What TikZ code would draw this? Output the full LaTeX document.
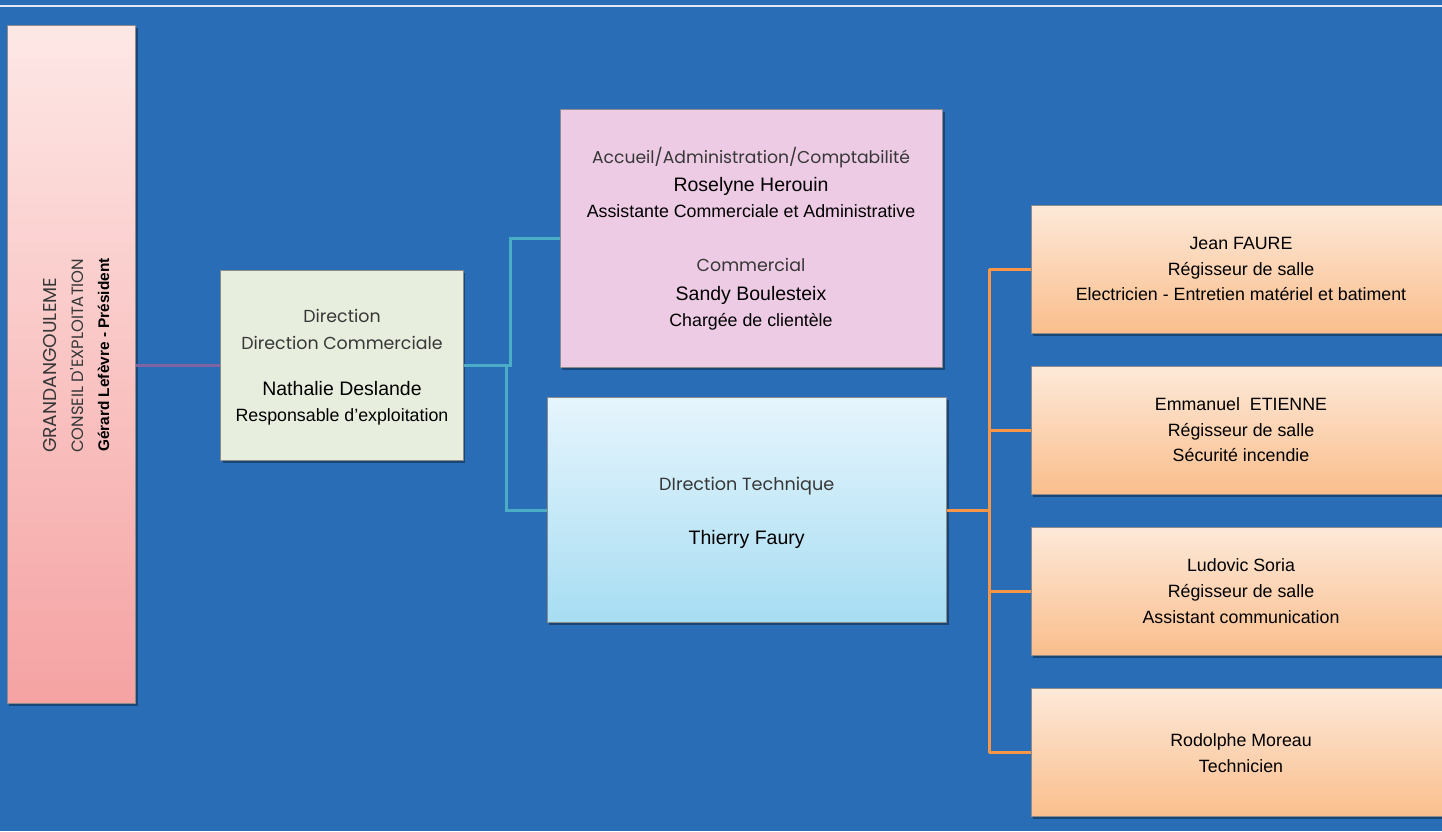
\documentclass[tikz,border=0pt]{standalone}
\usepackage{fontspec}
\setmainfont{Liberation Sans}
\newfontfamily\gothic{Poppins}
\usetikzlibrary{shadows}
\definecolor{bgblue}{RGB}{40,109,181}
\definecolor{topline}{RGB}{225,234,244}
\definecolor{teal}{RGB}{75,172,198}
\definecolor{orangeline}{RGB}{247,150,70}
\definecolor{purpleline}{RGB}{128,100,162}
\definecolor{greenfill}{RGB}{232,238,222}
\definecolor{lilacfill}{RGB}{237,203,228}
\definecolor{techtop}{RGB}{230,245,253}
\definecolor{techbot}{RGB}{167,221,242}
\definecolor{orangetop}{RGB}{253,233,217}
\definecolor{orangebot}{RGB}{250,190,140}
\definecolor{pinktop}{RGB}{253,232,230}
\definecolor{pinkbot}{RGB}{245,162,162}
\definecolor{gothgray}{RGB}{55,55,55}
\newcommand{\rolefont}{\fontsize{17.8}{20}\selectfont}
\newcommand{\namefont}{\fontsize{19.5}{22}\selectfont}
\newcommand{\gothfont}[1][17.4]{\gothic\fontsize{#1}{20}\selectfont\color{gothgray}}
\begin{document}
\begin{tikzpicture}[x=1pt,y=-1pt,
  box/.style={draw=black!45, line width=0.5pt, inner sep=0pt,
    drop shadow={shadow xshift=2pt, shadow yshift=-2.5pt, opacity=0.35, fill=black}},
  orangebox/.style={box, top color=orangetop, bottom color=orangebot, minimum width=421pt, minimum height=128.3pt},
  txt/.style={inner sep=0pt, anchor=base, text=black},
  conn/.style={line width=3pt}
]
\useasboundingbox (0,0) rectangle (1442,831);
\fill[bgblue] (0,0) rectangle (1442,831);
\draw[topline, line width=2pt] (0,6) -- (1442,6);

% boxes
\node[box, top color=pinktop, bottom color=pinkbot, minimum width=128.5pt, minimum height=678.5pt] (conseil) at (71.25,364.25) {};
\node[box, fill=greenfill, minimum width=242.6pt, minimum height=190pt] (dir) at (342,365) {};
\node[box, fill=lilacfill, minimum width=382.7pt, minimum height=258.3pt] (accueil) at (751.35,238.15) {};
\node[box, top color=techtop, bottom color=techbot, minimum width=399.4pt, minimum height=225pt] (tech) at (747,510.2) {};
\node[orangebox] (o1) at (1241.5,269.2) {};
\node[orangebox] (o2) at (1241.5,430.2) {};
\node[orangebox] (o3) at (1241.5,591.35) {};
\node[orangebox] (o4) at (1241.5,752.5) {};

% connectors
\draw[conn, purpleline] (dir.west) -- (dir.west -| conseil.east);
\draw[conn, teal] (dir.east) -- ++(47,0) |- (accueil.west);
\draw[conn, teal] (dir.east) -- ++(43,0) |- (tech.west);
\draw[conn, orangeline] (tech.east) -- ++(42.5,0) coordinate (ob);
\draw[conn, orangeline] (ob |- o1.west) -- (ob |- o4.west);
\foreach \o in {o1,o2,o3,o4} \draw[conn, orangeline] (ob |- \o.west) -- (\o.west);

% conseil text (rotated)
\node[txt, rotate=90, anchor=base west] (c1) at (56,453) {\gothfont[18.6] GRANDANGOULEME};
\node[txt, rotate=90, anchor=base west] (c2) at (83.3,453) {\gothfont[16.4] CONSEIL D'EXPLOITATION};
\node[txt, rotate=90, anchor=base west] (c3) at (109,452) {\fontsize{15.4}{18}\selectfont\bfseries Gérard Lefèvre - Président};

% direction text
\node[txt] (d1) at (342,322) {\gothfont Direction};
\node[txt] (d2) at (342,349) {\gothfont Direction Commerciale};
\node[txt] (d3) at (342,395.5) {\namefont Nathalie Deslande};
\node[txt] (d4) at (342,421.7) {\rolefont Responsable d'exploitation};

% accueil text
\node[txt] (a1) at (751,163.3) {\gothfont[17.2] Accueil/Administration/Comptabilité};
\node[txt] (a2) at (751,191) {\namefont Roselyne Herouin};
\node[txt] (a3) at (751,217.7) {\rolefont Assistante Commerciale et Administrative};
\node[txt] (a4) at (751,271.7) {\gothfont Commercial};
\node[txt] (a5) at (751,300) {\namefont Sandy Boulesteix};
\node[txt] (a6) at (751,326.7) {\rolefont Chargée de clientèle};

% tech text
\node[txt] (t1) at (746.7,490.7) {\gothfont[17.6] DIrection Technique};
\node[txt] (t2) at (746.7,544) {\namefont Thierry Faury};

% orange texts
\node[txt] (j1) at (1241,249) {\rolefont Jean FAURE};
\node[txt] (j2) at (1241,275) {\rolefont Régisseur de salle};
\node[txt] (j3) at (1241,300.7) {\rolefont Electricien - Entretien matériel et batiment};
\node[txt] (e1) at (1241,410) {\rolefont Emmanuel\ \ ETIENNE};
\node[txt] (e2) at (1241,436.7) {\rolefont Régisseur de salle};
\node[txt] (e3) at (1241,461.7) {\rolefont Sécurité incendie};
\node[txt] (l1) at (1241,571.7) {\rolefont Ludovic Soria};
\node[txt] (l2) at (1241,597.7) {\rolefont Régisseur de salle};
\node[txt] (l3) at (1241,623.3) {\rolefont Assistant communication};
\node[txt] (r1) at (1241,746.7) {\rolefont Rodolphe Moreau};
\node[txt] (r2) at (1241,772.3) {\rolefont Technicien};
\end{tikzpicture}
\end{document}
